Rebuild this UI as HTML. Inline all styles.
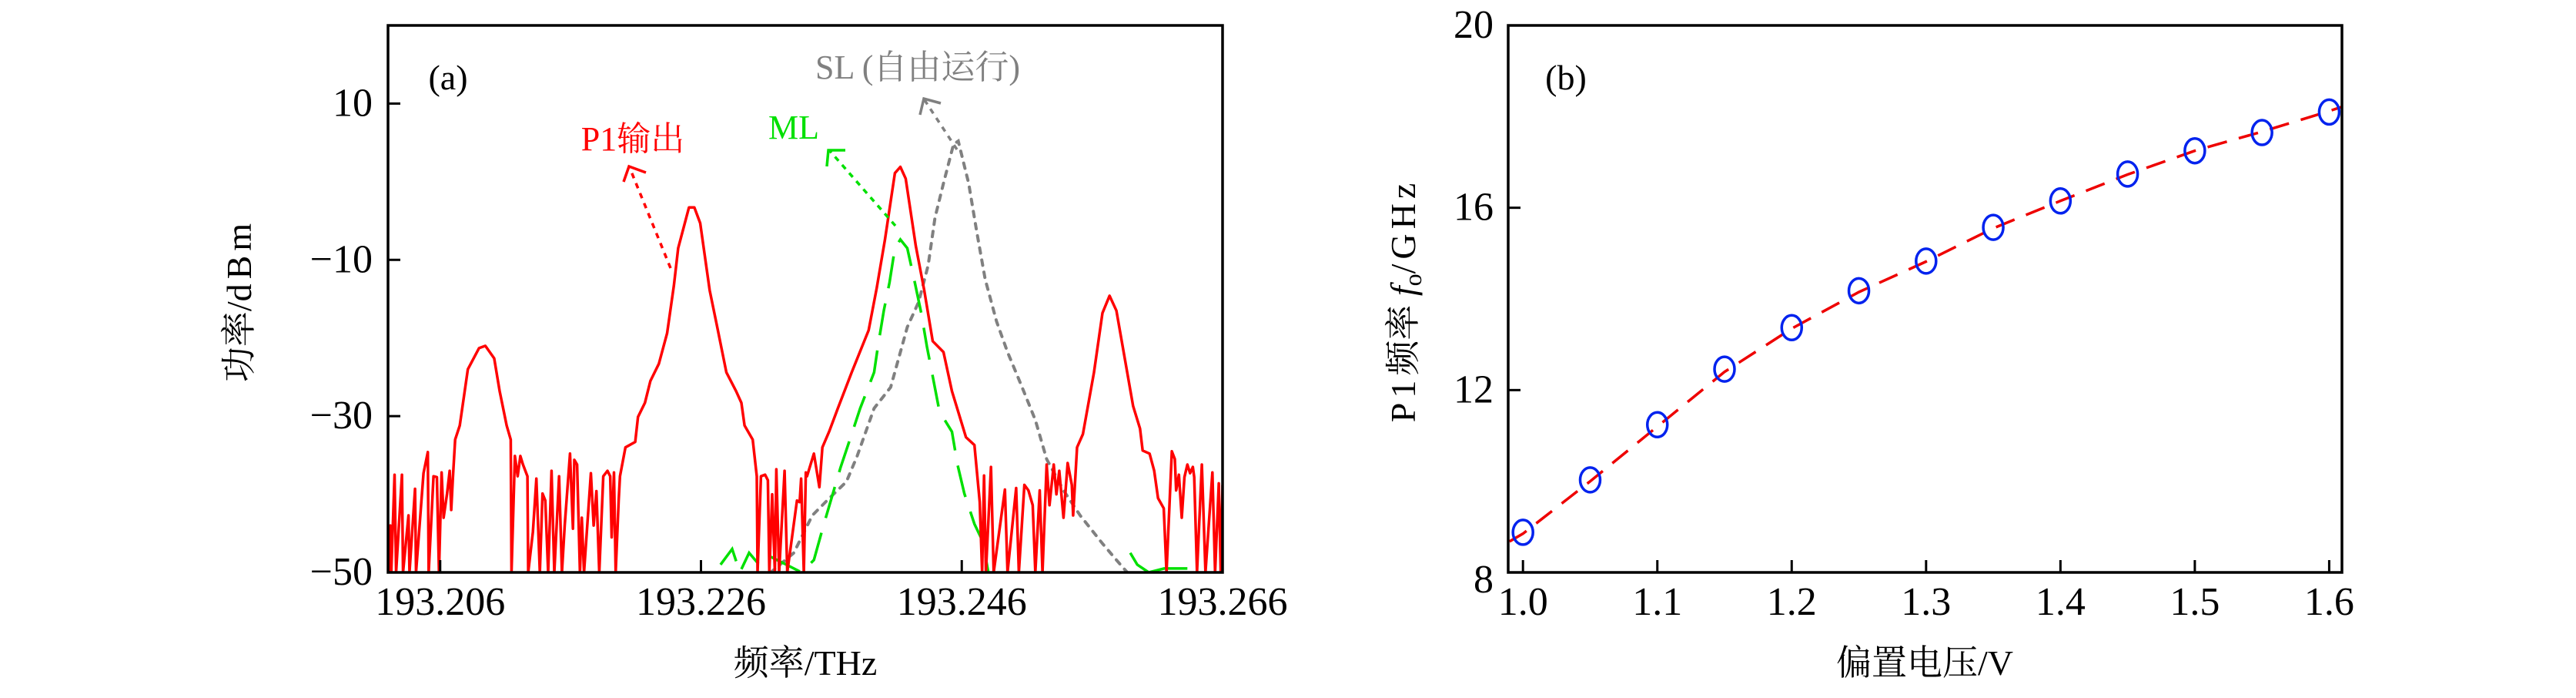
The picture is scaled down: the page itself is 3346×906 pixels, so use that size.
<!DOCTYPE html>
<html><head><meta charset="utf-8"><style>
html,body{margin:0;padding:0;background:#fff;}
svg{display:block;}
text{font-family:"Liberation Serif","Noto Serif CJK SC",serif;}
</style></head><body>
<svg id="fig" width="3346" height="906" viewBox="0 0 3346 906" xmlns="http://www.w3.org/2000/svg">
<rect x="0" y="0" width="3346" height="906" fill="#fff"/>
<defs>
<clipPath id="clipA"><rect x="504" y="33" width="1084" height="710"/></clipPath>
<clipPath id="clipB"><rect x="1959" y="33" width="1083" height="710"/></clipPath>
</defs>
<g id="panelA"></g>
<g id="panelB"></g>
</svg>
<script>
// ---------- Panel (a) data ----------
const aXTicks = [193.206, 193.226, 193.246, 193.266];
const aXTickLabels = ["193.206", "193.226", "193.246", "193.266"];
const aYTicks = [10, -10, -30, -50];
const aYTickLabels = ["10", "\u221210", "\u221230", "\u221250"];
const redF = [193.2020,193.20212,193.20218,193.20225,193.2025,193.20262,193.20307,193.20315,193.20357,193.20365,193.20407,193.20415,193.20472,193.20505,193.20512,193.20549,193.20575,193.20591,193.20611,193.20626,193.20653,193.20673,193.20685,193.20697,
193.20715,193.2075,193.20812,193.20898,193.20946,193.21014,193.21056,193.21088,193.2111,193.21141,193.21147,
193.21173,193.21194,193.21215,193.21235,193.21269,193.21275,193.21311,193.21338,193.21364,193.21385,193.21406,193.21428,193.21454,193.21475,193.21512,193.21534,193.21555,193.21596,193.21618,193.21629,193.2165,193.21672,193.21686,193.21703,193.21756,193.21777,193.21798,193.2182,193.21851,193.21883,193.21904,193.21915,193.21933,193.21946,193.21969,193.21979,
193.22021,193.22096,193.22117,193.2217,193.22212,193.22277,193.2234,193.22392,193.22425,193.22508,193.22549,193.22594,193.22667,193.22721,193.22795,193.22869,193.2291,193.22934,193.22997,193.23028,193.23034,
193.2306,193.23092,193.23113,193.23124,193.23146,193.23167,193.23178,193.23199,193.23241,193.23262,193.23336,193.23357,193.23368,193.23389,193.23404,
193.23413,193.23466,193.23508,193.23531,193.23585,193.2365,193.23756,193.23886,193.23948,193.24011,193.24087,193.24129,193.2417,193.24247,193.24312,193.24377,193.2446,193.24525,193.24632,193.24697,193.24738,193.24756,
193.24771,193.24785,193.24824,193.24845,193.24931,193.24951,193.25017,193.25038,193.2508,193.25111,193.25144,193.25164,193.25198,193.25219,193.25251,193.25273,193.25305,193.25326,193.25348,193.2538,193.25412,193.25444,193.25454,
193.25484,193.25529,193.25614,193.25679,193.25733,193.25786,193.25914,193.25967,193.25987,193.2604,193.26076,193.26105,
193.26149,193.2617,193.26211,193.26234,193.26244,193.26265,193.26287,193.26308,193.2633,193.26351,193.26372,193.26383,193.26404,193.26441,193.26469,193.26522,193.26543,193.26571,193.26586,193.266];
const redP = [-44,-50,-44,-50,-37.5,-50,-37.5,-50,-42.7,-50,-39.3,-50,-37.3,-34.6,-50,-37.7,-37.8,-50,-37.2,-43,-39.9,-37,-42,-38,
-33,-31.2,-24,-21.3,-21,-22.6,-26.8,-29.4,-31.2,-33,-50,
-35.1,-37.7,-35.1,-36.2,-37.7,-50,-44.8,-38,-50,-39.9,-40.8,-50,-37,-50,-37.7,-50,-44,-34.8,-44.4,-35.6,-36.2,-50,-43,-50,-37.3,-44,-39.6,-50,-37.7,-37,-37.7,-45.5,-37.2,-50,-40.8,-37.7,
-34,-33.3,-30.1,-28.3,-25.5,-23.3,-19.4,-13.3,-8.5,-3.3,-3.3,-5.3,-13.9,-18.3,-24.4,-26.8,-28.3,-31.2,-33,-37.7,-50,
-37.7,-37.5,-38.2,-50,-40,-50,-36.8,-50,-37,-50,-40.8,-41,-38,-50,-37.2,
-37.7,-34.8,-39.1,-34,-31.9,-29,-24.4,-19,-13.6,-7.4,1.1,1.9,0.4,-8.2,-13.9,-20.4,-21.8,-26.8,-32.7,-33.7,-41,-50,
-37.6,-50,-36.5,-50,-39.4,-50,-39.2,-50,-38.8,-39.5,-41.4,-50,-39.5,-50,-36.2,-41.4,-36.2,-40,-37,-43,-36,-38.8,-42.7,
-34,-32.3,-24.4,-16.8,-14.6,-16.5,-28.7,-31.6,-34.4,-34.8,-37,-40.5,
-41.8,-50,-34.5,-35.5,-39.5,-37.5,-43,-37.8,-36.2,-37.3,-36.5,-37.8,-50,-36.2,-50,-37.2,-50,-38.6,-50,-38.8];
const greenF = [193.2275,193.22839,193.22898,193.22969,193.23046,193.23135,193.23372,193.23466,193.23543,193.2367,193.23756,193.23821,193.23928,193.23957,193.24002,193.24046,193.24087,193.24129,193.24182,193.24235,193.24289,193.24333,193.24376,193.24429,193.24525,193.24567,193.2462,193.24697,193.2476,193.24804];
const greenP = [-49,-47,-50,-47.5,-49,-48,-50,-48.4,-43.8,-36.6,-32.3,-29,-24.4,-21.1,-16.5,-12.9,-8.5,-7.4,-8.5,-12.5,-16.8,-21.1,-24.8,-29.4,-32,-36.2,-39.9,-43.8,-46,-50];
const greenTailF = [193.25892,193.25946,193.26034,193.26152,193.2633];
const greenTailP = [-47.5,-49,-50,-49.5,-49.5];
const grayF = [193.23135,193.23312,193.23454,193.23585,193.23715,193.23798,193.23928,193.24055,193.24141,193.24182,193.24269,193.24342,193.24395,193.2446,193.24537,193.24573,193.24653,193.24715,193.2478,193.24867,193.24951,193.25058,193.25164,193.25251,193.2538,193.25508,193.25679,193.25786,193.25869];
const grayP = [-50,-47.5,-42.7,-40.5,-38.4,-35.1,-29,-26.3,-21.1,-18.6,-15.4,-10.7,-4.6,-0.2,4.8,5.2,-0.2,-6.4,-12.5,-17.9,-21.8,-26.1,-30.5,-35.5,-39.5,-42.7,-46.3,-48.4,-50];

// ---------- Panel (b) data ----------
const bXTicks = [1.0,1.1,1.2,1.3,1.4,1.5,1.6];
const bXTickLabels = ["1.0","1.1","1.2","1.3","1.4","1.5","1.6"];
const bYTicks = [20,16,12,8];
const bYTickLabels = ["20","16","12","8"];
const biasV = [1.0,1.05,1.1,1.15,1.2,1.25,1.3,1.35,1.4,1.45,1.5,1.55,1.6];
const p1Freq = [8.88,10.03,11.24,12.46,13.37,14.18,14.83,15.57,16.15,16.74,17.25,17.65,18.1];
const fitV = [0.99,1.0,1.05,1.1,1.15,1.2,1.25,1.3,1.35,1.4,1.45,1.5,1.55,1.6,1.61];
const fitF = [8.68,8.85,10.0,11.2,12.4,13.35,14.15,14.82,15.55,16.15,16.73,17.25,17.67,18.12,18.22];

const NS="http://www.w3.org/2000/svg";
function mk(tag, attrs, parent){const e=document.createElementNS(NS,tag);for(const k in attrs)e.setAttribute(k,attrs[k]);parent.appendChild(e);return e;}

// axes panel A
const ax={l:504,r:1588,t:33,b:743,x0:193.202,x1:193.266,y0:-50,y1:20};
const xA=f=>ax.l+(f-ax.x0)/(ax.x1-ax.x0)*(ax.r-ax.l);
const yA=p=>ax.b-(p-ax.y0)/(ax.y1-ax.y0)*(ax.b-ax.t);
const gA=document.getElementById('panelA');
function line(F,P,xf,yf,attrs,parent,name){
  const d=F.map((f,i)=>(i?'L':'M')+xf(f).toFixed(1)+' '+yf(P[i]).toFixed(1)).join(' ');
  const e=mk('path',Object.assign({d:d,fill:'none'},attrs),parent);
  
  
  return e;
}
const plotA=mk('g',{'clip-path':'url(#clipA)'},gA);


line(grayF,grayP,xA,yA,{stroke:'#808080','stroke-width':4,'stroke-dasharray':'7 9','stroke-linecap':'round'},plotA,'sl-free-running-line');
line(greenF,greenP,xA,yA,{stroke:'#00e000','stroke-width':3.5,'stroke-dasharray':'42 20'},plotA,'ml-line');
line(greenTailF,greenTailP,xA,yA,{stroke:'#00e000','stroke-width':3.5},plotA,'ml-tail');
line(redF,redP,xA,yA,{stroke:'#ff0000','stroke-width':3.5,'stroke-linejoin':'round'},plotA,'p1-output-line');

// frame A
const frA=mk('rect',{x:ax.l,y:ax.t,width:ax.r-ax.l,height:ax.b-ax.t,fill:'none',stroke:'#000','stroke-width':3.5},gA);


aXTicks.forEach((t,i)=>{
  const x=xA(t);
  const tk=mk('line',{x1:x,y1:ax.b,x2:x,y2:ax.b-16,stroke:'#000','stroke-width':3},gA);
  
  
  const lb=mk('text',{x:x,y:798,'font-size':52,'text-anchor':'middle'},gA);
  lb.textContent=aXTickLabels[i];
  
  
});
aYTicks.forEach((t,i)=>{
  const y=yA(t);
  const tk=mk('line',{x1:ax.l,y1:y,x2:ax.l+16,y2:y,stroke:'#000','stroke-width':3},gA);
  
  
  const lb=mk('text',{x:484,y:y+16,'font-size':52,'text-anchor':'end'},gA);
  lb.textContent=aYTickLabels[i];
  
  
});

// axes panel B
const bx={l:1959,r:3042,t:33,b:743,x0:0.989,x1:1.6095,y0:8,y1:20};
const xB=v=>bx.l+(v-bx.x0)/(bx.x1-bx.x0)*(bx.r-bx.l);
const yB=f=>bx.b-(f-bx.y0)/(bx.y1-bx.y0)*(bx.b-bx.t);
const gB=document.getElementById('panelB');
const plotB=mk('g',{'clip-path':'url(#clipB)'},gB);


line(fitV,fitF,xB,yB,{stroke:'#ee0000','stroke-width':3.5,'stroke-dasharray':'26 16'},plotB,'fit-curve');
biasV.forEach((v,i)=>{
  const m=mk('ellipse',{cx:xB(v),cy:yB(p1Freq[i]),rx:13,ry:16,fill:'none',stroke:'#0022ee','stroke-width':3.5},plotB);
  
  
});
const frB=mk('rect',{x:bx.l,y:bx.t,width:bx.r-bx.l,height:bx.b-bx.t,fill:'none',stroke:'#000','stroke-width':3.5},gB);


bXTicks.forEach((t,i)=>{
  const x=xB(t);
  const tk=mk('line',{x1:x,y1:bx.b,x2:x,y2:bx.b-16,stroke:'#000','stroke-width':3},gB);
  
  
  const lb=mk('text',{x:x,y:798,'font-size':52,'text-anchor':'middle'},gB);
  lb.textContent=bXTickLabels[i];
  
  
});
bYTicks.forEach((t,i)=>{
  const y=yB(t);
  const tk=mk('line',{x1:bx.l,y1:y,x2:bx.l+16,y2:y,stroke:'#000','stroke-width':3},gB);
  
  
  const lb=mk('text',{x:1940,y:(t===8?y+26:y+16),'font-size':52,'text-anchor':'end'},gB);
  lb.textContent=bYTickLabels[i];
  
  
});
</script>
<svg style="position:absolute;left:0;top:0" width="3346" height="906" viewBox="0 0 3346 906" xmlns="http://www.w3.org/2000/svg">
  <text x="582" y="116" font-size="46" text-anchor="middle" style="font-family:'Liberation Serif',serif">(a)</text>
  <text x="2034" y="116" font-size="46" text-anchor="middle" style="font-family:'Liberation Serif',serif">(b)</text>
  <text x="1192" y="102" font-size="44" fill="#808080" text-anchor="middle" style="font-family:'Liberation Serif','Noto Serif CJK SC',serif">SL (自由运行)</text>
  <text x="822" y="195" font-size="44" fill="#ff0000" text-anchor="middle" style="font-family:'Liberation Serif','Noto Serif CJK SC',serif">P1输出</text>
  <text x="1031" y="180" font-size="44" fill="#00e000" text-anchor="middle" style="font-family:'Liberation Serif',serif">ML</text>
  <g stroke="#ff0000" stroke-width="3.5" fill="none">
    <line x1="871" y1="348" x2="818" y2="218" stroke-dasharray="7 7"/>
    <polyline points="810,236 817,216 839,224"/>
  </g>
  <g stroke="#00e000" stroke-width="3.5" fill="none">
    <line x1="1163" y1="293" x2="1078" y2="196" stroke-dasharray="7 7"/>
    <polyline points="1074,216 1076,195 1098,195"/>
  </g>
  <g stroke="#808080" stroke-width="3.5" fill="none">
    <line x1="1243" y1="194" x2="1201" y2="130" stroke-dasharray="7 7"/>
    <polyline points="1195,149 1200,128 1222,134"/>
  </g>
  <text transform="translate(326,390) rotate(-90)" font-size="46" text-anchor="middle" style="font-family:'Liberation Serif','Noto Serif CJK SC',serif">功率/<tspan letter-spacing="6">dBm</tspan></text>
  <text x="1046" y="876" font-size="46" text-anchor="middle" style="font-family:'Liberation Serif','Noto Serif CJK SC',serif">频率/THz</text>
  <text transform="translate(1838,390) rotate(-90)" font-size="46" text-anchor="middle" style="font-family:'Liberation Serif','Noto Serif CJK SC',serif"><tspan letter-spacing="6">P1</tspan>频率 <tspan font-style="italic">f</tspan><tspan font-size="32" dy="8">o</tspan><tspan dy="-8" letter-spacing="6">/GHz</tspan></text>
  <text x="2500" y="876" font-size="46" text-anchor="middle" style="font-family:'Liberation Serif','Noto Serif CJK SC',serif">偏置电压/V</text>
</svg>
</body></html>
